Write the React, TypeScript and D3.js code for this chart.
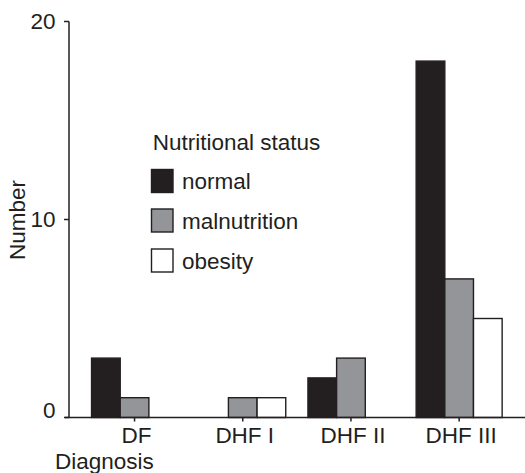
import React from "react";
import * as d3 from "d3";

const categories = ["DF", "DHF I", "DHF II", "DHF III"];
const seriesNames = ["normal", "malnutrition", "obesity"];
const normalValues = [3, 0, 2, 18];
const malnutritionValues = [1, 1, 3, 7];
const obesityValues = [0, 1, 0, 5];
const yTicks = [0, 10, 20];

const seriesValues = [normalValues, malnutritionValues, obesityValues];
const fills = ["#231f20", "#939598", "#ffffff"];
const ink = "#231f20";
const font = "'Liberation Sans', Arial, Helvetica, sans-serif";

export default function App() {
  const W = 525, H = 473;
  const axisX = 69;
  const y = d3.scaleLinear().domain([0, 20]).range([417.5, 21.5]);
  const step = 108.2;
  const groupW = 86;
  const x = d3
    .scaleBand<string>()
    .domain(categories)
    .range([134.55 - step / 2, 134.55 + step * 3.5])
    .paddingInner(1 - groupW / step)
    .paddingOuter((1 - groupW / step) / 2);
  const xs = d3.scaleBand<string>().domain(seriesNames).range([0, x.bandwidth()]);

  const legendY = [181, 220.5, 260.5];

  return (
    <svg
      width={W}
      height={H}
      style={{ position: "absolute", left: 0, top: 0, background: "#fff" }}
      fontFamily={font}
      fontSize={22.5}
      fill={ink}
    >
      {/* bars */}
      {categories.map((c, ci) =>
        seriesNames.map((s, si) => {
          const v = seriesValues[si][ci];
          if (v <= 0) return null;
          return (
            <rect
              key={c + s}
              x={(x(c) as number) + (xs(s) as number)}
              y={y(v)}
              width={xs.bandwidth()}
              height={y(0) - y(v)}
              fill={fills[si]}
              stroke={ink}
              strokeWidth={1.4}
            />
          );
        })
      )}
      {/* y axis */}
      <line x1={axisX} x2={axisX} y1={y(20)} y2={y(0)} stroke={ink} strokeWidth={1.5} />
      {yTicks.map((t) => (
        <g key={t}>
          <line x1={axisX - 5} x2={axisX} y1={y(t)} y2={y(t)} stroke={ink} strokeWidth={1.5} />
          <text x={55.5} y={y(t) - (t === 0 ? 7.5 : 0)} dy="0.35em" textAnchor="end">
            {t}
          </text>
        </g>
      ))}
      {/* x axis */}
      <line x1={65} x2={W} y1={y(0)} y2={y(0)} stroke={ink} strokeWidth={1.5} />
      {categories.map((c) => {
        const cx = (x(c) as number) + x.bandwidth() / 2;
        return (
          <g key={c}>
            <line x1={cx} x2={cx} y1={y(0)} y2={y(0) + 4} stroke={ink} strokeWidth={1.5} />
            <text x={cx + 2} y={443} textAnchor="middle">
              {c}
            </text>
          </g>
        );
      })}
      <text x={55} y={468.5}>Diagnosis</text>
      <text transform="translate(25,220) rotate(-90)" textAnchor="middle">
        Number
      </text>
      {/* legend */}
      <text x={152.7} y={150}>Nutritional status</text>
      {seriesNames.map((s, i) => (
        <g key={s}>
          <rect
            x={151.5}
            y={legendY[i] - 11.5}
            width={21.5}
            height={23}
            fill={fills[i]}
            stroke={ink}
            strokeWidth={1.4}
          />
          <text x={182} y={legendY[i] + 8}>
            {s}
          </text>
        </g>
      ))}
    </svg>
  );
}
